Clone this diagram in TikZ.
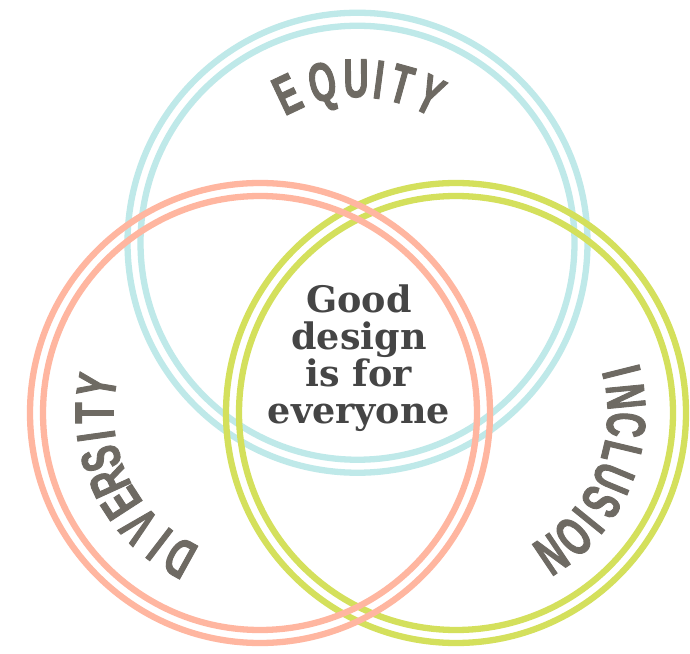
\documentclass[tikz,border=0pt]{standalone}
\usepackage{fontspec}
\usetikzlibrary{calc}
% condensed heavy sans for the ring labels, bold serif for the motto
\newfontfamily\labelfont{Liberation Sans}[FakeStretch=0.63, BoldFeatures={FakeBold=1.6}]
\newfontfamily\mottofont{DejaVu Serif}
\definecolor{ringcyan}{RGB}{191,233,233}
\definecolor{ringsalmon}{RGB}{255,182,160}
\definecolor{ringgreen}{RGB}{212,224,92}
\definecolor{labelgray}{RGB}{110,106,99}
\definecolor{mottogray}{RGB}{69,69,69}
\tikzset{
  ring/.style={line width=6.3pt},
  letter/.style={font=\labelfont\bfseries\fontsize{55}{55}\selectfont,
    text=labelgray, inner sep=0pt, text height=39pt, text depth=0pt},
  motto/.style={font=\mottofont\bfseries\fontsize{36.5}{37}\selectfont,
    text=mottogray, inner sep=0pt, anchor=base},
}
\begin{document}
\begin{tikzpicture}[x=1pt,y=1pt]
  \useasboundingbox (0,0) rectangle (690,653);
  \fill[white] (0,0) rectangle (690,653);

  % circle centres
  \coordinate (equity) at (357.5,410.25);
  \coordinate (diversity) at (260,240);
  \coordinate (inclusion) at (456,240);

  % double rings
  \draw[ring, ringcyan] (equity) circle (230pt) (equity) circle (217pt);
  \draw[ring, ringgreen] (inclusion) circle (230pt) (inclusion) circle (217pt);
  \draw[ring, ringsalmon] (diversity) circle (230pt) (diversity) circle (217pt);

  % ring labels, one letter at a time along each circle
  \foreach \ch/\ang [count=\i] in {E/115.3, Q/102.4, U/90.5, I/82.5, T/74.4, Y/63.9}
    \node[letter, rotate=\ang-90] (eq\i) at ($(equity)+(\ang:165pt)$) {\ch};
  \foreach \ch/\ang [count=\i] in {D/241, I/232.5, V/223, E/213, R/204.5, S/196, I/188, T/180, Y/170.5}
    \node[letter, rotate=\ang-90] (dv\i) at ($(diversity)+(\ang:166pt)$) {\ch};
  \foreach \ch/\ang [count=\i] in {I/14, N/5.5, C/-4, L/-13.5, U/-22.5, S/-31.5, I/-39, O/-46.5, N/-56}
    \node[letter, rotate=\ang-90] (in\i) at ($(inclusion)+(\ang:171pt)$) {\ch};

  % motto in the middle
  \node[motto] (m1) at (359,340) {Good};
  \node[motto] (m2) at (359,303) {design};
  \node[motto] (m3) at (359,266) {is for};
  \node[motto] (m4) at (359,229) {everyone};
\end{tikzpicture}
\end{document}
